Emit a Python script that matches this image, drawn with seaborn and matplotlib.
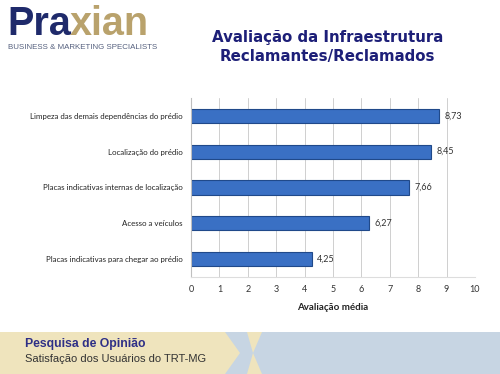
import matplotlib
matplotlib.use("Agg")
import matplotlib.pyplot as plt
import seaborn as sns
import pandas as pd
from matplotlib.patches import Polygon, Rectangle

# data
categorias = [
    "Limpeza das demais dependências do prédio",
    "Localização do prédio",
    "Placas indicativas internas de localização",
    "Acesso a veículos",
    "Placas indicativas para chegar ao prédio",
]
medias = [8.73, 8.45, 7.66, 6.27, 4.25]
rotulos = ["8,73", "8,45", "7,66", "6,27", "4,25"]
x_ticks = list(range(0, 11))

df = pd.DataFrame({"categoria": categorias, "media": medias})

sns.set_style("white")
plt.rcParams["font.family"] = ["Liberation Sans", "DejaVu Sans"]

fig = plt.figure(figsize=(5, 3.74), dpi=100)
W, H = 500, 374

# footer band (pixel coords)
bg = fig.add_axes([0, 0, 1, 1], zorder=0)
bg.set_xlim(0, W)
bg.set_ylim(H, 0)
bg.axis("off")
beige = "#efe4bd"
azul = "#c7d5e3"
bg.add_patch(Rectangle((0, 332), 262, 42, color=beige, lw=0))
bg.add_patch(Polygon([(262, 332), (W, 332), (W, H), (262, H), (253, 353)], color=azul, lw=0))
bg.add_patch(Polygon([(225, 332), (247, 332), (253, 353), (247, H), (225, H), (240, 353)], color=azul, lw=0))

# logo
t1 = bg.text(7, 35, "Pra", fontsize=28.5, fontweight="bold", color="#1f2a6b", va="baseline")
fig.canvas.draw()
bb = t1.get_window_extent()
bg.text(7 + bb.width - 1, 35, "xian", fontsize=28.5, fontweight="bold", color="#b9a26c", va="baseline")
bg.text(8, 49, "BUSINESS & MARKETING SPECIALISTS", fontsize=5.7, color="#55607e", va="baseline")

# title
fig.text(0.655, 0.901, "Avaliação da Infraestrutura", ha="center", va="center",
         fontsize=10.8, fontweight="bold", color="#1d1f78", family=["DejaVu Sans"])
fig.text(0.655, 0.848, "Reclamantes/Reclamados", ha="center", va="center",
         fontsize=10.8, fontweight="bold", color="#1d1f78", family=["DejaVu Sans"])

# footer text
bg.text(25, 347, "Pesquisa de Opinião", fontsize=8.8, fontweight="bold", color="#2e2f86", va="baseline")
bg.text(25, 362, "Satisfação dos Usuários do TRT-MG", fontsize=8, color="#333333", va="baseline")

# chart
ax = fig.add_axes([0.382, 0.2594, 0.568, 0.4786], zorder=1)
ax.patch.set_alpha(0)
sns.barplot(data=df, x="media", y="categoria", orient="h", color="#3a70c4",
            edgecolor="#20498a", linewidth=0.8, width=0.4, saturation=1, ax=ax)
ax.bar_label(ax.containers[0], labels=rotulos, padding=4, fontsize=6.5, color="#333333",
             family=["Lato", "DejaVu Sans"])

ax.set_xlim(0, 10)
ax.set_xticks(x_ticks)
ax.set_xticklabels([str(v) for v in x_ticks], fontsize=6.5, color="#333333", family=["Lato", "DejaVu Sans"])
ax.set_yticks(range(len(categorias)))
ax.set_yticklabels(categorias, fontsize=5.7, color="#222222", family=["Lato", "DejaVu Sans"])
ax.set_xlabel("Avaliação média", fontsize=7, fontweight="bold", color="#222222",
              family=["Lato", "DejaVu Sans"], labelpad=6)
ax.set_ylabel("")
ax.grid(axis="x", color="#cfcfcf", linewidth=0.7)
ax.set_axisbelow(True)
for s in ["top", "right"]:
    ax.spines[s].set_visible(False)
ax.spines["left"].set_color("#bfbfbf")
ax.spines["bottom"].set_color("#dddddd")
ax.tick_params(axis="y", length=0, pad=6)
ax.tick_params(axis="x", length=0, pad=6)
# minor ticks on the left spine between categories
ax.set_yticks([i + 0.5 for i in range(-1, len(categorias))], minor=True)
ax.tick_params(axis="y", which="minor", length=3, color="#bfbfbf", direction="out")

fig.savefig("out.png", dpi=100)
